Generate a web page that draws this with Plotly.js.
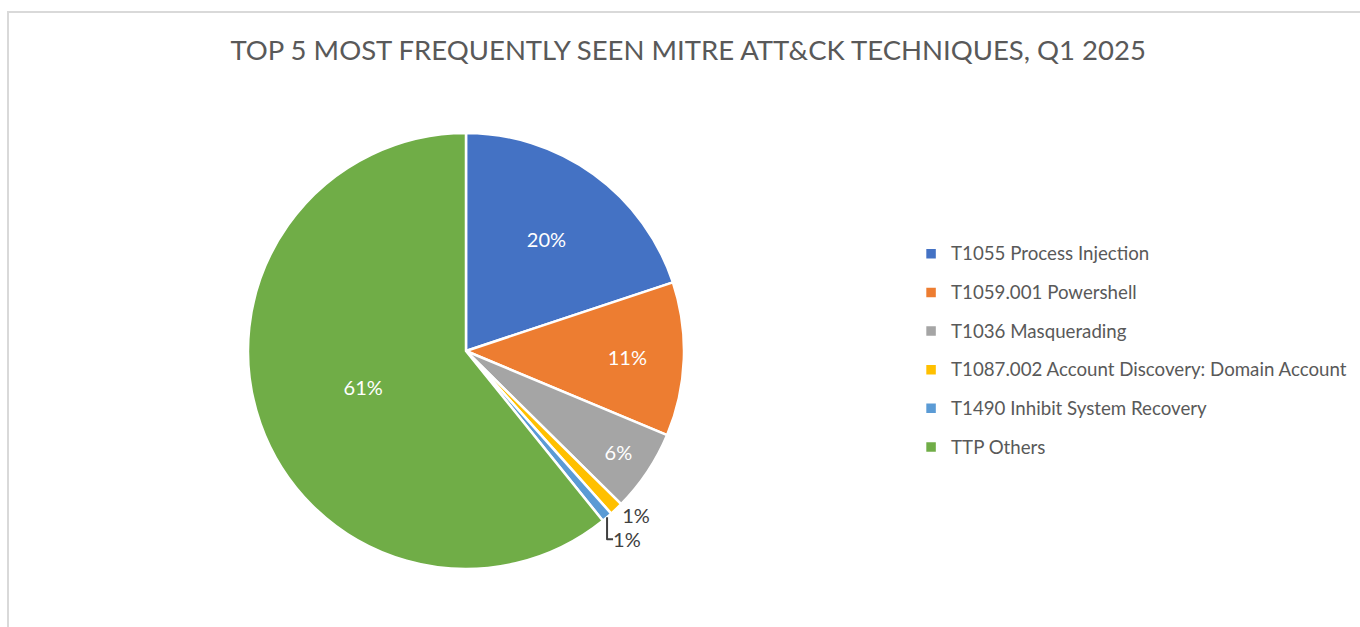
<!DOCTYPE html>
<html>
<head>
<meta charset="utf-8">
<script src="https://cdn.plot.ly/plotly-3.0.1.min.js"></script>
<style>
  html, body { margin: 0; padding: 0; background: #ffffff; }
  #wrap { position: relative; width: 1360px; height: 627px; overflow: hidden; }
  #frame { position: absolute; left: 7px; top: 11px; width: 1400px; height: 700px;
           border-left: 2px solid #d9d9d9; border-top: 2px solid #d9d9d9; pointer-events: none; }
  #chart { position: absolute; left: 0; top: 0; width: 1360px; height: 627px; }
</style>
</head>
<body>
<div id="wrap">
  <div id="chart"></div>
  <div id="frame"></div>
</div>
<script>
const titleText = "TOP 5 MOST FREQUENTLY SEEN MITRE ATT&amp;CK TECHNIQUES, Q1 2025";
const techniques = [
  "T1055 Process Injection",
  "T1059.001 Powershell",
  "T1036 Masquerading",
  "T1087.002 Account Discovery: Domain Account",
  "T1490 Inhibit System Recovery",
  "TTP Others"
];
const shares = [19.9, 11.4, 6.1, 1.0, 0.8, 60.8];
const sliceColors = ["#4472c4", "#ed7d31", "#a5a5a5", "#ffc000", "#5b9bd5", "#70ad47"];
const labelPositions = ["inside", "inside", "inside", "outside", "outside", "inside"];

const FONT = "Lato, 'Open Sans', sans-serif";

const legendLabels = techniques.map(t =>
  '<span style="font-size:18.7px;baseline-shift:4px">' + t + '</span>');

const trace = {
  type: "pie",
  labels: legendLabels,
  values: shares,
  sort: false,
  direction: "clockwise",
  rotation: 0,
  textinfo: "percent",
  texttemplate: "%{percent:.0%}",
  textposition: labelPositions,
  insidetextorientation: "horizontal",
  insidetextfont: { family: FONT, size: 20, color: "#ffffff" },
  outsidetextfont: { family: FONT, size: 20, color: "#404040" },
  marker: { colors: sliceColors, line: { color: "#ffffff", width: 2.5 } },
  domain: { x: [0.18235, 0.50294], y: [0.0925, 0.7879] },
  hoverinfo: "label+percent",
  automargin: false
};

const layout = {
  width: 1360,
  height: 627,
  margin: { l: 0, r: 0, t: 0, b: 0 },
  paper_bgcolor: "#ffffff",
  plot_bgcolor: "#ffffff",
  title: {
    text: titleText,
    font: { family: FONT, size: 27.5, color: "#595959" },
    x: 0.506, xanchor: "center",
    y: 0.92, yanchor: "middle"
  },
  showlegend: true,
  legend: {
    x: 0.6699, xanchor: "left",
    y: 0.441, yanchor: "middle",
    font: { family: FONT, size: 27.4, color: "#595959" },
    bgcolor: "rgba(0,0,0,0)",
    borderwidth: 0,
    traceorder: "normal"
  }
};

Plotly.newPlot("chart", [trace], layout, { displayModeBar: false, staticPlot: true });
</script>
</body>
</html>
